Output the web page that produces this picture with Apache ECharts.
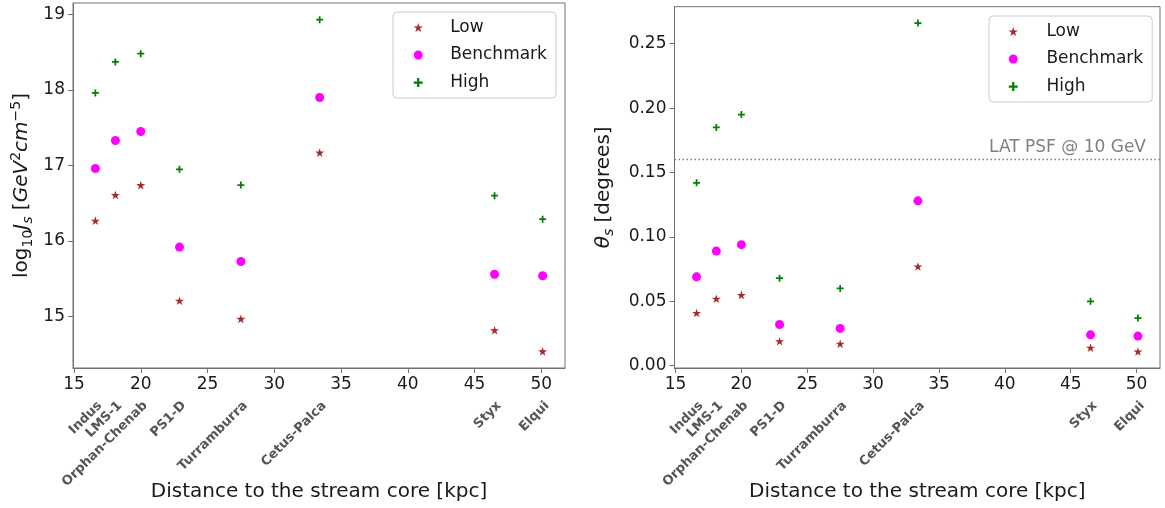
<!DOCTYPE html>
<html>
<head>
<meta charset="utf-8">
<script src="https://cdn.jsdelivr.net/npm/echarts@6/dist/echarts.min.js"></script>
<style>
  html, body { margin: 0; padding: 0; background: #ffffff; }
  #chart { width: 1165px; height: 508px; }
</style>
</head>
<body>
<div id="chart"></div>
<script>
// Stellar streams and their distance to the stream core (kpc)
const streams = ['Indus', 'LMS-1', 'Orphan-Chenab', 'PS1-D', 'Turramburra', 'Cetus-Palca', 'Styx', 'Elqui'];
const distanceKpc = [16.6, 18.1, 20.0, 22.9, 27.5, 33.4, 46.5, 50.1];

// log10 of the J-factor, for the three density-profile scenarios
const logJLow = [16.27, 16.61, 16.74, 15.21, 14.97, 17.17, 14.82, 14.54];
const logJBenchmark = [16.96, 17.33, 17.45, 15.92, 15.73, 17.90, 15.56, 15.54];
const logJHigh = [17.96, 18.37, 18.48, 16.95, 16.74, 18.93, 16.60, 16.29];

// Angular extension theta_s (degrees)
const thetaLow = [0.041, 0.052, 0.055, 0.019, 0.017, 0.077, 0.014, 0.011];
const thetaBenchmark = [0.069, 0.089, 0.094, 0.032, 0.029, 0.128, 0.024, 0.023];
const thetaHigh = [0.142, 0.185, 0.195, 0.068, 0.060, 0.266, 0.050, 0.037];

// Fermi-LAT point spread function at 10 GeV
const psfTheta = 0.16;
const psfText = 'LAT PSF @ 10 GeV';

// Tick values
const distanceTicks = [15, 20, 25, 30, 35, 40, 45, 50];
const logJTicks = [15, 16, 17, 18, 19];
const thetaTicks = [0, 0.05, 0.10, 0.15, 0.20, 0.25];

const seriesNames = ['Low', 'Benchmark', 'High'];

// ---- styling ----
const FONT = 'DejaVu Sans';
const SPINE = '#707070';
const TEXT = '#1a1a1a';
const STAR = 'path://M100,0L122.45,69.1L195.11,69.1L136.33,111.8L158.78,180.9L100,138.2L41.22,180.9L63.67,111.8L4.89,69.1L77.55,69.1Z';
const PLUS = 'path://M3,0H5V3H8V5H5V8H3V5H0V3H3Z';
const markers = {
  Low: { symbol: STAR, size: 9, color: '#a52a2a' },
  Benchmark: { symbol: 'circle', size: 9, color: '#ff00ff' },
  High: { symbol: PLUS, size: 7, color: '#008000' }
};

// axis ranges (5% padding around the data)
const X_MIN = 14.925, X_MAX = 51.775;
const LOGJ_MIN = 14.32, LOGJ_MAX = 19.15;
const THETA_MIN = -0.00175, THETA_MAX = 0.27875;

function nearestStream(v) {
  let best = 0;
  distanceKpc.forEach((d, i) => { if (Math.abs(d - v) < Math.abs(distanceKpc[best] - v)) best = i; });
  return streams[best];
}

function scatter(name, ys, xIdx, yIdx) {
  const m = markers[name];
  return {
    type: 'scatter', name,
    xAxisIndex: xIdx, yAxisIndex: yIdx,
    data: distanceKpc.map((x, i) => [x, ys[i]]),
    symbol: m.symbol, symbolSize: m.size, symbolKeepAspect: true,
    itemStyle: { color: m.color, opacity: 1 },
    emphasis: { disabled: true },
    silent: true
  };
}

function mainX(gridIndex) {
  return {
    gridIndex, type: 'value', min: X_MIN, max: X_MAX, position: 'bottom',
    axisLine: { show: true, onZero: false, lineStyle: { color: SPINE, width: 1 } },
    axisTick: { show: true, length: 5, customValues: distanceTicks, lineStyle: { color: SPINE, width: 1 } },
    axisLabel: { customValues: distanceTicks, fontSize: 17, fontFamily: FONT, color: TEXT, margin: 8 },
    splitLine: { show: false },
    name: 'Distance to the stream core [kpc]',
    nameLocation: 'middle', nameGap: 113,
    nameTextStyle: { fontSize: 20, fontFamily: FONT, color: TEXT, lineHeight: 22 }
  };
}

// second bottom axis carrying the stream names at their distances
function streamX(gridIndex) {
  return {
    gridIndex, type: 'value', min: X_MIN, max: X_MAX, position: 'bottom', offset: 0,
    axisLine: { show: false, onZero: false }, axisTick: { show: false }, splitLine: { show: false },
    axisLabel: {
      customValues: distanceKpc, rotate: 45, margin: 31, verticalAlign: 'top',
      formatter: v => nearestStream(v),
      fontSize: 13, fontWeight: 'bold', fontFamily: FONT, color: '#555555'
    }
  };
}

const nameRich = {
  r: { fontSize: 20, fontFamily: FONT, color: TEXT, lineHeight: 26 },
  i: { fontSize: 20, fontFamily: FONT, color: TEXT, fontStyle: 'italic', lineHeight: 26 },
  sub: { fontSize: 14, fontFamily: FONT, color: TEXT, verticalAlign: 'bottom', lineHeight: 14 },
  isub: { fontSize: 14, fontFamily: FONT, color: TEXT, fontStyle: 'italic', verticalAlign: 'bottom', lineHeight: 14 },
  sup: { fontSize: 14, fontFamily: FONT, color: TEXT, verticalAlign: 'top', lineHeight: 14 }
};

function yAxis(gridIndex, min, max, ticks, fmt, name, gap) {
  return {
    gridIndex, type: 'value', min, max,
    axisLine: { show: true, onZero: false, lineStyle: { color: SPINE, width: 1 } },
    axisTick: { show: true, length: 5, customValues: ticks, lineStyle: { color: SPINE, width: 1 } },
    axisLabel: { customValues: ticks, formatter: fmt, fontSize: 17, fontFamily: FONT, color: TEXT, margin: 8 },
    splitLine: { show: false },
    name, nameLocation: 'middle', nameGap: gap,
    nameTextStyle: { fontSize: 20, fontFamily: FONT, color: TEXT, rich: nameRich }
  };
}

// legend entries are set off from their markers by an en space plus a thin space
function legend(left, top, padLeft, itemWidth) {
  return {
    orient: 'vertical', left, top,
    data: seriesNames, selectedMode: false,
    itemWidth, itemHeight: 9, itemGap: 7.5,
    padding: [5.5, 9, 5.5, padLeft],
    borderColor: '#cccccc', borderWidth: 1, borderRadius: 4,
    backgroundColor: 'rgba(255,255,255,0.8)',
    formatter: n => '\u2002\u2009' + n,
    textStyle: { fontSize: 17, fontFamily: FONT, color: TEXT, lineHeight: 20 }
  };
}

const thetaHighSeries = scatter('High', thetaHigh, 2, 1);
thetaHighSeries.markLine = {
  silent: true, symbol: ['none', 'none'], animation: false,
  lineStyle: { color: '#808080', type: [1.5, 2.5], width: 1.3 },
  label: {
    show: true, position: 'insideEndTop', formatter: psfText,
    color: '#808080', fontSize: 17, fontFamily: FONT, distance: 4, padding: [0, 10, 0, 0]
  },
  emphasis: { disabled: true },
  data: [{ yAxis: psfTheta }]
};

const option = {
  animation: false,
  backgroundColor: '#ffffff',
  textStyle: { fontFamily: FONT },
  grid: [
    { left: 73, top: 3, width: 492, height: 366, show: true, borderColor: SPINE, borderWidth: 1 },
    { left: 674.5, top: 6.7, width: 485.5, height: 361.5, show: true, borderColor: SPINE, borderWidth: 1 }
  ],
  xAxis: [mainX(0), streamX(0), mainX(1), streamX(1)],
  yAxis: [
    yAxis(0, LOGJ_MIN, LOGJ_MAX, logJTicks, v => String(Math.round(v)),
      '{r|log}{sub|10}{i|J}{isub|s}{r| [}{i|GeV}{sup|2}{i|cm}{sup|−5}{r|]}', 38),
    yAxis(1, THETA_MIN, THETA_MAX, thetaTicks, v => v.toFixed(2),
      '{i|θ}{isub|s}{r| [degrees]}', 58)
  ],
  legend: [legend(393, 12, 20.5, 30), legend(989, 16, 19.5, 32.5)],
  series: [
    scatter('Low', logJLow, 0, 0),
    scatter('Benchmark', logJBenchmark, 0, 0),
    scatter('High', logJHigh, 0, 0),
    scatter('Low', thetaLow, 2, 1),
    scatter('Benchmark', thetaBenchmark, 2, 1),
    thetaHighSeries
  ]
};

echarts.init(document.getElementById('chart'), null, { renderer: 'canvas' }).setOption(option);
</script>
</body>
</html>
